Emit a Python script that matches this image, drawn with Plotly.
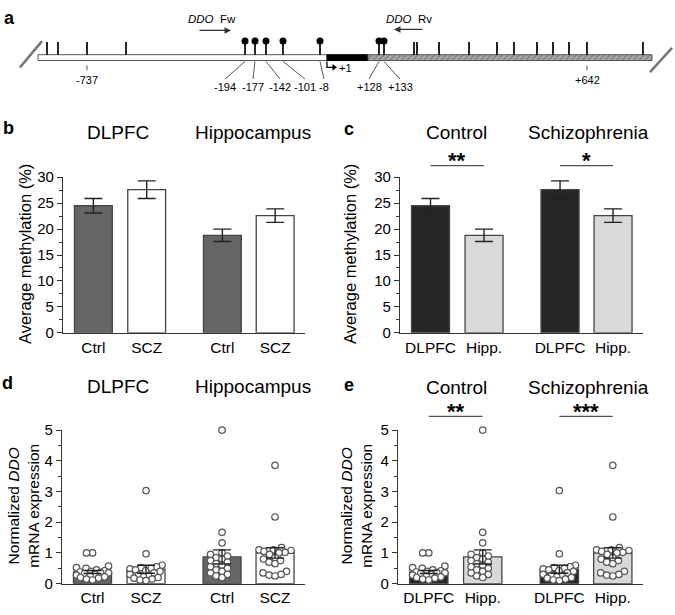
import numpy as np
import plotly.graph_objects as go

W, H = 675, 615
FONT = "Liberation Sans, Arial, sans-serif"

# ---------------- data ----------------
# panel a : CpG sites (schematic positions along the drawn sequence)
cpg_plain = [47, 58, 87, 126, 414, 417, 439, 469, 497, 514, 537, 553, 569, 587, 643]
cpg_lolli = [245, 255, 266, 283, 320, 379, 384]
lolli_labels = ["-194", "-177", "-142", "-101", "-8", "+128", "+133"]
lolli_label_x = [225, 253, 280, 305, 324, 369, 400]
plain_labels = ["-737", "+642"]
plain_label_sites = [87, 587]
segments = [("white", 38, 327), ("black", 327, 368), ("hatch", 368, 652)]

# panels b / c : average methylation (%)
meth_dlpfc = [24.5, 27.6]      # Ctrl, SCZ
meth_dlpfc_sem = [1.4, 1.7]
meth_hipp = [18.8, 22.6]       # Ctrl, SCZ
meth_hipp_sem = [1.2, 1.3]

# panels d / e : normalized DDO mRNA expression
expr_dlpfc_ctrl = [1.0, 1.0, 0.57, 0.52, 0.5, 0.45, 0.42, 0.4, 0.38, 0.36, 0.35, 0.33,
                   0.3, 0.28, 0.25, 0.22, 0.2, 0.18, 0.15, 0.12]
expr_dlpfc_scz = [3.03, 0.97, 0.6, 0.55, 0.52, 0.5, 0.48, 0.45, 0.42, 0.4, 0.35, 0.3,
                  0.28, 0.25, 0.22, 0.2, 0.18, 0.15, 0.12, 0.1]
expr_hipp_ctrl = [5.0, 1.67, 1.33, 1.0, 0.95, 0.9, 0.85, 0.8, 0.75, 0.7, 0.65, 0.6,
                  0.55, 0.5, 0.45, 0.4, 0.35, 0.3, 0.25, 0.2]
expr_hipp_scz = [3.85, 2.17, 1.17, 1.1, 1.1, 1.08, 1.05, 1.02, 1.0, 0.95, 0.85, 0.8,
                 0.75, 0.7, 0.65, 0.4, 0.35, 0.3, 0.28, 0.25]
expr_mean = {"dc": 0.38, "ds": 0.47, "hc": 0.87, "hs": 1.0}
expr_sem = {"dc": 0.05, "ds": 0.13, "hc": 0.23, "hs": 0.17}

tick_b = ["Ctrl", "SCZ", "Ctrl", "SCZ"]
tick_c = ["DLPFC", "Hipp.", "DLPFC", "Hipp."]

# ---------------- layout helpers ----------------
POS = [1, 2, 3.42, 4.41]
XR = [0.43, 4.97]
BW = 0.71


def fx(px):
    return px / W


def fy(py):
    return 1 - py / H


fig = go.Figure()

# ---------------- panel a ----------------
xa, ya = "x", "y"
for kind, s, e in segments:
    if kind == "white":
        mk = dict(color="white", line=dict(color="#555", width=1))
    elif kind == "black":
        mk = dict(color="black", line=dict(color="black", width=1))
    else:
        mk = dict(color="#a0a0a0", line=dict(color="#555", width=1),
                  pattern=dict(shape="/", fgcolor="#555", bgcolor="#a8a8a8", size=4, solidity=0.35))
    fig.add_trace(go.Bar(x=[e - s], base=[s], y=[50], width=[6], orientation="h",
                         marker=mk, xaxis=xa, yaxis=ya, hoverinfo="skip"))

lx, ly = [], []
for p in cpg_plain + cpg_lolli:
    lx += [p, p, None]
    ly += [34, 47, None]
fig.add_trace(go.Scatter(x=lx, y=ly, mode="lines", line=dict(color="black", width=1.7),
                         xaxis=xa, yaxis=ya, cliponaxis=False, hoverinfo="skip"))
fig.add_trace(go.Scatter(x=cpg_lolli, y=[33] * len(cpg_lolli), mode="markers",
                         marker=dict(color="black", size=7), xaxis=xa, yaxis=ya,
                         cliponaxis=False, hoverinfo="skip"))
# leader lines
gx, gy = [], []
for p, q in zip(cpg_lolli, lolli_label_x):
    gx += [p, q, None]
    gy += [54, 72, None]
for p in plain_label_sites:
    gx += [p, p, None]
    gy += [58, 63, None]
fig.add_trace(go.Scatter(x=gx, y=gy, mode="lines", line=dict(color="#555", width=1),
                         xaxis=xa, yaxis=ya, cliponaxis=False, hoverinfo="skip"))
# TSS arrow
fig.add_trace(go.Scatter(x=[327, 327, 333], y=[54, 60, 60], mode="lines",
                         line=dict(color="black", width=1.3), xaxis=xa, yaxis=ya,
                         cliponaxis=False, hoverinfo="skip"))
fig.add_trace(go.Scatter(x=[334], y=[60], mode="markers",
                         marker=dict(symbol="triangle-right", size=6, color="black"),
                         xaxis=xa, yaxis=ya, cliponaxis=False, hoverinfo="skip"))
# break slashes
fig.add_trace(go.Scatter(x=[20, 42, None, 650, 672], y=[60, 33, None, 65, 40], mode="lines",
                         line=dict(color="#777", width=2.5), xaxis=xa, yaxis=ya,
                         cliponaxis=False, hoverinfo="skip"))

annotations = []


def ann_data(x, y, text, size=12, xref="x", yref="y", **kw):
    d = dict(x=x, y=y, text=text, xref=xref, yref=yref, showarrow=False,
             font=dict(family=FONT, size=size, color="black"), xanchor="center", yanchor="middle")
    d.update(kw)
    annotations.append(d)


def ann_px(px, py, text, size=12, **kw):
    ann_data(fx(px), fy(py), text, size, xref="paper", yref="paper", **kw)


for t, q in zip(lolli_labels, lolli_label_x):
    ann_data(q, 80, t, 11)
for t, q in zip(plain_labels, plain_label_sites):
    ann_data(q, 73, t, 11)
ann_data(345, 61, "+1", 11)
ann_data(212, 10, "<i>DDO</i>  Fw", 11.5)
ann_data(409, 10, "<i>DDO</i>  Rv", 11.5)
annotations.append(dict(x=231, y=22, ax=198, ay=22, xref="x", yref="y", axref="x", ayref="y",
                        showarrow=True, arrowhead=2, arrowsize=1, arrowwidth=1.3,
                        arrowcolor="#333", text=""))
annotations.append(dict(x=394, y=21, ax=424, ay=21, xref="x", yref="y", axref="x", ayref="y",
                        showarrow=True, arrowhead=2, arrowsize=1, arrowwidth=1.3,
                        arrowcolor="#333", text=""))

# ---------------- panels b / c ----------------
b_vals = [meth_dlpfc[0], meth_dlpfc[1], meth_hipp[0], meth_hipp[1]]
b_err = [meth_dlpfc_sem[0], meth_dlpfc_sem[1], meth_hipp_sem[0], meth_hipp_sem[1]]
c_vals = [meth_dlpfc[0], meth_hipp[0], meth_dlpfc[1], meth_hipp[1]]
c_err = [meth_dlpfc_sem[0], meth_hipp_sem[0], meth_dlpfc_sem[1], meth_hipp_sem[1]]

errstyle = dict(type="data", visible=True, color="#222", thickness=1.4, width=9)

fig.add_trace(go.Bar(x=POS, y=b_vals, width=BW, xaxis="x2", yaxis="y2",
                     marker=dict(color=["#666666", "#ffffff", "#666666", "#ffffff"],
                                 line=dict(color="#444", width=1.3)),
                     error_y=dict(array=b_err, **errstyle), hoverinfo="skip"))
fig.add_trace(go.Bar(x=POS, y=c_vals, width=BW, xaxis="x3", yaxis="y3",
                     marker=dict(color=["#262626", "#d9d9d9", "#262626", "#d9d9d9"],
                                 line=dict(color="#444", width=1.3)),
                     error_y=dict(array=c_err, **errstyle), hoverinfo="skip"))

# ---------------- panels d / e ----------------
XSCALE = 243 / (XR[1] - XR[0])
YSCALE = 158 / 5.0


def swarm(values, center, diam=6.0, half=16.0):
    vals = np.asarray(values, dtype=float)
    placed = []
    out = np.zeros(len(vals))
    cands = sorted(np.arange(-half, half + 0.01, 0.5), key=lambda c: (abs(c), c))
    for i in np.argsort(vals):
        yv = vals[i] * YSCALE
        best, bestd = 0.0, -1.0
        chosen = None
        for c in cands:
            dmin = min([np.hypot(c - px, yv - py) for px, py in placed] or [1e9])
            if dmin >= diam:
                chosen = c
                break
            if dmin > bestd:
                best, bestd = c, dmin
        if chosen is None:
            chosen = best
        placed.append((chosen, yv))
        out[i] = center + chosen / XSCALE
    return out


def expr_panel(xn, yn, groups, colors):
    keys = [g[0] for g in groups]
    fig.add_trace(go.Bar(x=POS, y=[expr_mean[k] for k in keys], width=BW, xaxis=xn, yaxis=yn,
                         marker=dict(color=colors, line=dict(color="#444", width=1.3)),
                         hoverinfo="skip"))
    for p, (k, data) in zip(POS, groups):
        fig.add_trace(go.Scatter(x=swarm(data, p), y=data, mode="markers", xaxis=xn, yaxis=yn,
                                 cliponaxis=False, hoverinfo="skip",
                                 marker=dict(size=6.5, color="white",
                                             line=dict(color="#555", width=1.2))))
    fig.add_trace(go.Scatter(x=POS, y=[expr_mean[k] for k in keys], mode="markers",
                             xaxis=xn, yaxis=yn, cliponaxis=False, hoverinfo="skip",
                             marker=dict(size=1, color="rgba(0,0,0,0)"),
                             error_y=dict(array=[expr_sem[k] for k in keys], **errstyle)))


expr_panel("x4", "y4",
           [("dc", expr_dlpfc_ctrl), ("ds", expr_dlpfc_scz), ("hc", expr_hipp_ctrl), ("hs", expr_hipp_scz)],
           ["#666666", "#ffffff", "#666666", "#ffffff"])
expr_panel("x5", "y5",
           [("dc", expr_dlpfc_ctrl), ("hc", expr_hipp_ctrl), ("ds", expr_dlpfc_scz), ("hs", expr_hipp_scz)],
           ["#262626", "#d9d9d9", "#262626", "#d9d9d9"])

# ---------------- axes ----------------
AXC = "#333"


def xaxis(d0, d1, ticks):
    return dict(domain=[fx(d0), fx(d1)], range=XR, showgrid=False, zeroline=False,
                showline=True, linecolor=AXC, linewidth=1.3, ticks="", tickvals=POS,
                ticktext=ticks, tickfont=dict(family=FONT, size=15.5, color="black"),
                fixedrange=True)


def yaxis(top, bottom, rmax, dt, mdt):
    return dict(domain=[fy(bottom), fy(top)], range=[0, rmax], showgrid=False, zeroline=False,
                showline=True, linecolor=AXC, linewidth=1.3, ticks="outside", ticklen=5,
                tickwidth=1.2, tickcolor=AXC, dtick=dt, tick0=0,
                tickfont=dict(family=FONT, size=15, color="black"),
                minor=dict(ticks="outside", ticklen=3, tickwidth=1, tickcolor=AXC, dtick=mdt, tick0=0),
                fixedrange=True)


lay = dict(
    width=W, height=H, margin=dict(l=0, r=0, t=0, b=0), paper_bgcolor="white",
    plot_bgcolor="white", showlegend=False, barmode="overlay",
    xaxis=dict(domain=[0, 1], range=[0, W], visible=False, fixedrange=True),
    yaxis=dict(domain=[fy(100), 1], range=[100, 0], visible=False, fixedrange=True),
)
for i, (x0, x1, ytop, ybot, rmax, dt, mdt, ticks) in enumerate([
        (63, 305, 173, 333, 30, 5, 2.5, tick_b),
        (400, 643, 173, 333, 30, 5, 2.5, tick_c),
        (62, 305, 433, 591, 5, 1, 0.5, tick_b),
        (398, 643, 433, 591, 5, 1, 0.5, tick_c)], start=2):
    xd = xaxis(x0, x1, ticks)
    xd["anchor"] = f"y{i}"
    yd = yaxis(ytop, ybot, rmax, dt, mdt)
    yd["anchor"] = f"x{i}"
    lay[f"xaxis{i}"] = xd
    lay[f"yaxis{i}"] = yd

# ---------------- texts ----------------
for lab, px, py in [("a", 9, 9), ("b", 8, 122), ("c", 349, 123), ("d", 7, 385), ("e", 349, 387)]:
    ann_px(px, py, f"<b>{lab}</b>", 18)

for txt, px, py in [("DLPFC", 118, 127), ("Hippocampus", 253, 127),
                    ("Control", 457, 127), ("Schizophrenia", 588, 127),
                    ("DLPFC", 118, 388), ("Hippocampus", 253, 388),
                    ("Control", 457, 389), ("Schizophrenia", 588, 389)]:
    ann_px(px, py, txt, 19)

for px in (25, 350):
    ann_px(px, 252, "Average methylation (%)", 16.5, textangle=-90)
for px in (24, 357):
    ann_px(px, 511, "Normalized <i>DDO</i><br>mRNA expression", 15.5, textangle=-90)

# significance
shapes = []
for xn, ypx, stars in [("x3", 161, ["**", "*"]), ("x5", 419, ["**", "***"])]:
    for (a, b), st in zip([(POS[0], POS[1]), (POS[2], POS[3])], stars):
        shapes.append(dict(type="line", xref=xn, yref="paper", x0=a, x1=b, y0=fy(ypx), y1=fy(ypx),
                           line=dict(color="#555", width=1.2)))
        ann_data((a + b) / 2, fy(ypx - 5), f"<b>{st}</b>", 22, xref=xn, yref="paper")

lay["annotations"] = annotations
lay["shapes"] = shapes
fig.update_layout(**lay)
fig.write_html("out.html", config={"displayModeBar": False},
               post_script="document.body.style.margin='0px';")
